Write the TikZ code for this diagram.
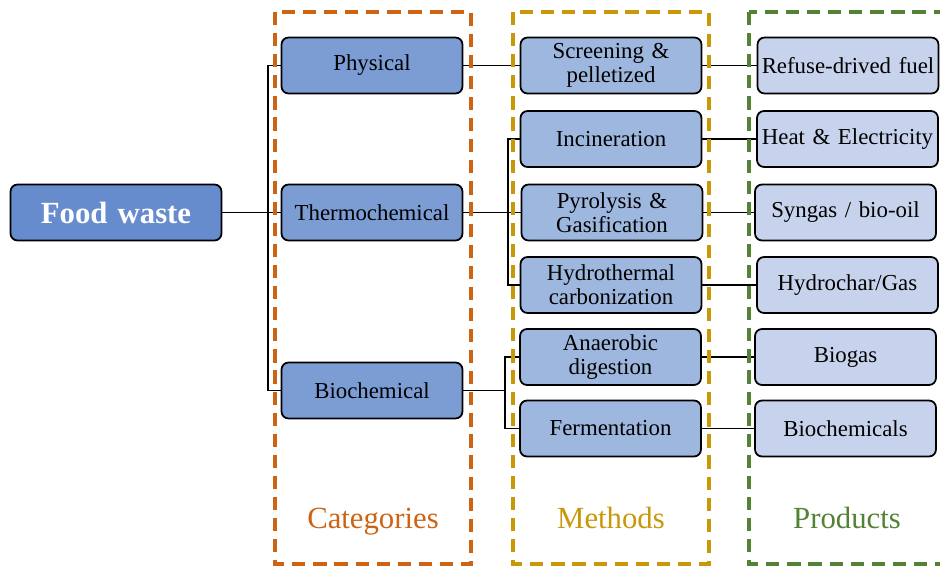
\documentclass[tikz,border=0pt]{standalone}
\usepackage{fontspec}
\setmainfont{Liberation Serif}
\usetikzlibrary{positioning}

\definecolor{rootblue}{RGB}{103,140,206}
\definecolor{catblue}{RGB}{124,156,212}
\definecolor{methblue}{RGB}{158,183,222}
\definecolor{prodblue}{RGB}{199,211,236}
\definecolor{catorange}{RGB}{204,100,20}
\definecolor{methgold}{RGB}{201,152,8}
\definecolor{prodgreen}{RGB}{84,130,53}

\begin{document}
\begin{tikzpicture}[x=0.02cm,y=-0.02cm]
      \tikzstyle{box}=[rectangle,rounded corners=4pt,draw=black,line width=1pt,minimum height=1.12cm,text width=3.62cm,align=center,inner sep=0pt,font=\fontsize{13}{13.5}\selectfont]
      \tikzstyle{link}=[line width=0.8pt]
      \tikzstyle{frame}=[dash pattern=on 7.5pt off 4.5pt,line width=2pt]
      \tikzstyle{title}=[anchor=base,font=\fontsize{17.5}{18}\selectfont]

      \useasboundingbox (0,0) rectangle (940,565);

      % root
      \node[box,fill=rootblue,text width=4.22cm,text=white,font=\bfseries\fontsize{17.5}{18}\selectfont](food) at (116,212.5){Food waste};

      % categories
      \node[box,fill=catblue](phys) at (372,65.5){Physical};
      \node[box,fill=catblue](thermo) at (372,212.5){Thermochemical};
      \node[box,fill=catblue](bio) at (372,390.5){Biochemical};

      % methods
      \node[box,fill=methblue](scr) at (611,65.5){Screening \&\\pelletized};
      \node[box,fill=methblue](inc) at (611,139){Incineration};
      \node[box,fill=methblue](pyr) at (612,212.5){Pyrolysis \&\\Gasification};
      \node[box,fill=methblue](hyd) at (611,285){Hydrothermal\\carbonization};
      \node[box,fill=methblue](ana) at (610.5,357){Anaerobic\\digestion};
      \node[box,fill=methblue](fer) at (610.5,428.5){Fermentation};

      % products
      \node[box,fill=prodblue](rdf) at (848,65.5){Refuse-drived fuel};
      \node[box,fill=prodblue](heat) at (847.5,139){Heat \& Electricity};
      \node[box,fill=prodblue](syn) at (845.5,212.5){Syngas / bio-oil};
      \node[box,fill=prodblue](hc) at (847.5,285){Hydrochar/Gas};
      \node[box,fill=prodblue](biogas) at (845.5,357){Biogas};
      \node[box,fill=prodblue](biochem) at (845.5,428.5){Biochemicals};

      \coordinate (trunk1) at (268,0);
      \coordinate (trunk2) at (508,0);
      \coordinate (trunk3) at (505,0);

      \draw[link] (food.east) -- (thermo.west);
      \draw[link] (phys.west) -- (phys.west -| trunk1) |- (bio.west);

      \draw[link] (phys.east) -- (scr.west);
      \draw[link] (thermo.east) -- (pyr.west);
      \draw[link] (inc.west) -- (inc.west -| trunk2) |- (hyd.west);
      \draw[link] (bio.east) -- (bio.east -| trunk3);
      \draw[link] (ana.west) -- (ana.west -| trunk3) |- (fer.west);

      \draw[link] (scr.east) -- (rdf.west);
      \draw[link] (inc.east) -- (heat.west);
      \draw[link] (pyr.east) -- (syn.west);
      \draw[link] (hyd.east) -- (hc.west);
      \draw[link] (ana.east) -- (biogas.west);
      \draw[link] (fer.east) -- (biochem.west);

      % column frames
      \draw[frame,draw=catorange] (275,12) rectangle (471,564);
      \draw[frame,draw=methgold] (513,12) rectangle (709,564);
      \draw[frame,draw=prodgreen] (749,12) rectangle (960,564);

      \node[title,text=catorange](catlabel) at (373,528){Categories};
      \node[title,text=methgold](methlabel) at (611,528){Methods};
      \node[title,text=prodgreen](prodlabel) at (847,528){Products};
\end{tikzpicture}
\end{document}
